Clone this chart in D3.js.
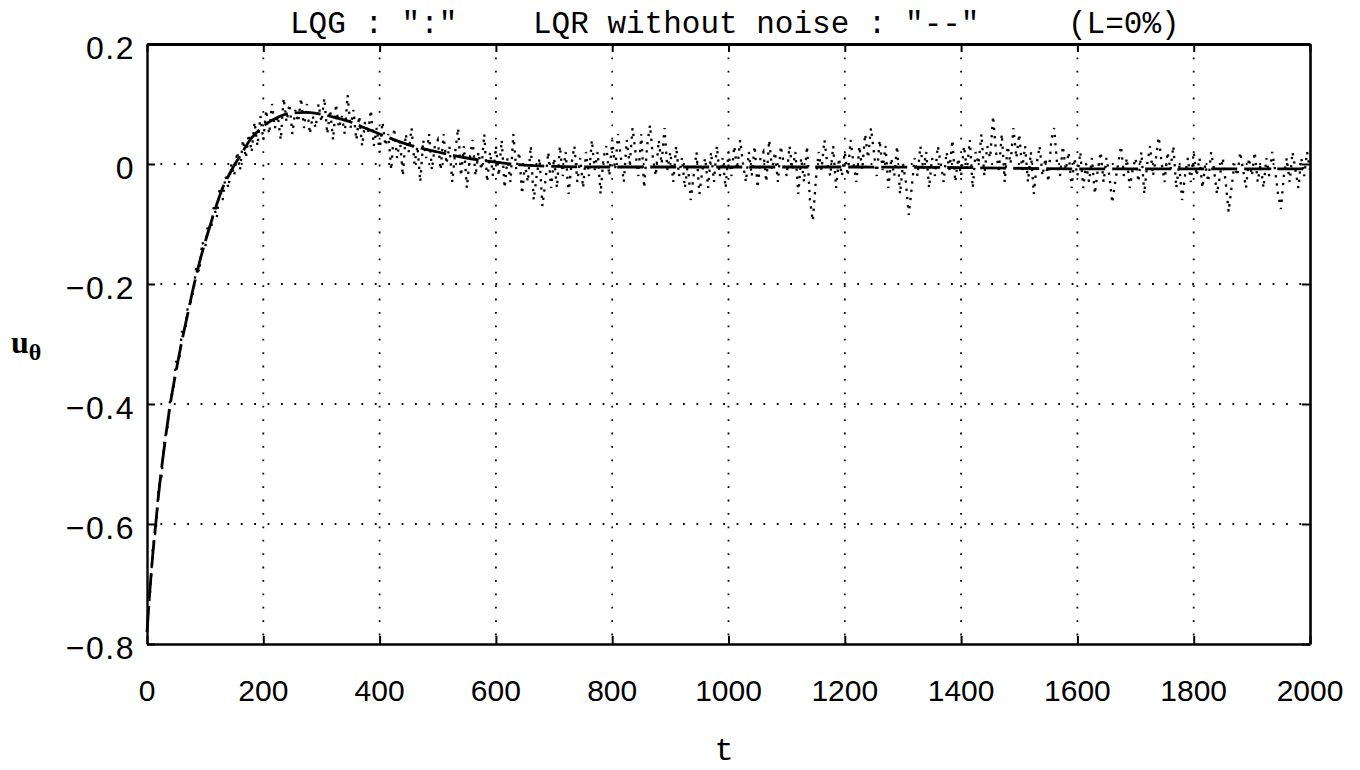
<!DOCTYPE html>
<html>
<head>
<meta charset="utf-8">
<script src="https://cdn.jsdelivr.net/npm/d3@7"></script>
<style>
  html, body { margin: 0; padding: 0; background: #fff; }
  svg { display: block; }
</style>
</head>
<body>
<svg id="chart" width="1360" height="770"></svg>
<script>
// Tick values shown on the axes
const xTicks = [0, 200, 400, 600, 800, 1000, 1200, 1400, 1600, 1800, 2000];
const yTicks = [0.2, 0, -0.2, -0.4, -0.6, -0.8];

// LQR without noise (dashed reference response)
const lqrT = [0, 5, 10, 15, 20, 30, 40, 50, 60, 70, 80, 90, 100, 110, 120, 130, 140, 150, 160, 175,
  200, 225, 250, 275, 300, 325, 350, 375, 400, 450, 500, 550, 600, 650, 700, 800, 900, 1000,
  1200, 1400, 1600, 1800, 2000];
const lqrU = [-0.78, -0.71, -0.65, -0.60, -0.55, -0.47, -0.40, -0.345, -0.295, -0.25, -0.205, -0.165,
  -0.13, -0.098, -0.067, -0.04, -0.02, -0.002, 0.013, 0.037,
  0.063, 0.078, 0.085, 0.086, 0.083, 0.077, 0.07, 0.06, 0.05, 0.032, 0.02, 0.01, 0.003, -0.002,
  -0.004, -0.005, -0.005, -0.005, -0.005, -0.006, -0.008, -0.008, -0.008];

// LQG response, sampled every 5 time units (dotted); one row per 100 time units
const lqgStep = 5;
const lqgU = [
  -0.77, -0.72, -0.64, -0.61, -0.54, -0.52, -0.46, -0.44, -0.39, -0.38, -0.33, -0.33, -0.28, -0.28, -0.24, -0.23, -0.21, -0.17, -0.18, -0.13,
  -0.14, -0.10, -0.11, -0.07, -0.09, -0.04, -0.06, -0.02, -0.04, 0.00, -0.02, 0.02, -0.01, 0.04, 0.01, 0.05, 0.02, 0.07, 0.03, 0.08,
  0.04, 0.09, 0.05, 0.10, 0.06, 0.08, 0.04, 0.11, 0.07, 0.10, 0.05, 0.09, 0.07, 0.11, 0.06, 0.10, 0.05, 0.08, 0.06, 0.10,
  0.07, 0.11, 0.05, 0.09, 0.04, 0.10, 0.06, 0.08, 0.05, 0.115, 0.06, 0.09, 0.04, 0.08, 0.03, 0.07, 0.05, 0.09, 0.03, 0.06,
  0.02, 0.07, 0.03, 0.05, -0.01, 0.06, 0.01, 0.04, -0.02, 0.05, 0.02, 0.06, 0.00, 0.03, -0.03, 0.04, 0.01, 0.05, -0.01, 0.03,
  0.04, -0.01, 0.05, 0.00, 0.03, -0.03, 0.02, 0.06, -0.02, 0.03, -0.04, 0.01, 0.04, -0.02, 0.02, -0.01, 0.05, -0.03, 0.02, -0.02,
  0.03, -0.02, 0.04, -0.04, 0.01, -0.03, 0.05, -0.01, 0.02, -0.05, 0.00, -0.03, 0.03, -0.06, -0.02, 0.01, -0.07, -0.03, 0.02, -0.04,
  0.01, -0.04, 0.03, -0.02, 0.02, -0.05, 0.00, 0.03, -0.03, 0.01, -0.04, 0.02, -0.02, 0.04, -0.01, 0.02, -0.05, 0.01, 0.03, -0.02,
  0.04, -0.01, 0.05, 0.01, -0.03, 0.04, 0.00, 0.06, 0.02, -0.02, 0.05, -0.04, 0.03, 0.065, 0.01, -0.02, 0.04, 0.00, 0.06, -0.01,
  0.02, -0.03, 0.03, -0.02, 0.01, -0.04, 0.00, -0.06, -0.02, 0.02, -0.05, -0.01, 0.01, -0.04, 0.02, -0.03, 0.03, -0.02, 0.01, -0.04,
  0.02, -0.02, 0.03, -0.01, 0.04, 0.00, -0.03, 0.02, -0.02, 0.03, -0.04, 0.01, 0.02, -0.03, 0.04, -0.01, 0.02, -0.03, 0.03, 0.00,
  -0.02, 0.03, -0.01, 0.02, -0.05, 0.01, -0.03, 0.03, -0.06, -0.095, -0.03, 0.02, -0.01, 0.04, 0.00, -0.02, 0.03, -0.04, 0.01, -0.02,
  0.02, -0.02, 0.04, 0.00, -0.03, 0.03, -0.01, 0.05, 0.01, 0.06, 0.02, -0.02, 0.04, -0.01, 0.03, -0.04, 0.01, -0.02, 0.03, -0.05,
  0.00, -0.03, -0.085, -0.04, 0.01, -0.02, 0.03, -0.01, 0.02, -0.04, 0.01, -0.02, 0.03, 0.00, -0.03, 0.02, -0.01, 0.04, -0.03, 0.01,
  -0.02, 0.03, -0.01, 0.04, -0.04, 0.02, 0.00, 0.05, -0.02, 0.03, 0.01, 0.08, 0.02, -0.01, 0.05, -0.03, 0.03, 0.00, 0.06, 0.01,
  0.05, -0.01, 0.03, -0.03, 0.02, -0.05, 0.00, 0.03, -0.02, 0.01, -0.03, 0.04, 0.06, 0.00, -0.02, 0.03, -0.01, 0.02, -0.04, 0.01,
  -0.02, 0.02, -0.04, 0.00, -0.03, 0.01, -0.05, -0.01, 0.02, -0.03, 0.01, -0.02, -0.065, -0.03, 0.00, 0.03, -0.02, 0.01, -0.04, -0.01,
  0.01, -0.03, 0.02, -0.05, 0.00, 0.03, -0.02, 0.01, 0.045, 0.00, -0.03, 0.02, -0.01, 0.03, -0.04, 0.00, -0.06, -0.02, 0.01, -0.03,
  0.02, -0.02, 0.01, -0.04, 0.00, -0.03, 0.02, -0.01, -0.05, -0.02, 0.01, -0.03, -0.08, -0.04, 0.00, -0.02, 0.02, -0.01, -0.04, 0.01,
  -0.02, 0.02, -0.03, 0.00, -0.04, 0.01, -0.02, 0.02, -0.01, -0.05, -0.075, -0.02, 0.01, -0.03, 0.02, -0.01, -0.04, 0.01, -0.02, 0.02,
  -0.01
];

const svg = d3.select("#chart");
const plotLeft = 147, plotRight = 1310, plotTop = 44, plotBottom = 644;

const x = d3.scaleLinear().domain([0, 2000]).range([plotLeft, plotRight]);
const y = d3.scaleLinear().domain([-0.8, 0.2]).range([plotBottom, plotTop]);

const tickFont = "'Liberation Sans', Arial, sans-serif";
const monoFont = "'Liberation Mono', 'Courier New', monospace";

// dotted grid
const grid = svg.append("g");
grid.selectAll("line.gx")
  .data(xTicks.slice(1, -1))
  .join("line")
  .attr("class", "gx")
  .attr("x1", d => x(d)).attr("x2", d => x(d))
  .attr("y1", plotTop).attr("y2", plotBottom)
  .attr("stroke", "#000").attr("stroke-width", 1.8)
  .attr("stroke-dasharray", "1.8,11.6");
grid.selectAll("line.gy")
  .data(yTicks.slice(1, -1))
  .join("line")
  .attr("class", "gy")
  .attr("x1", plotLeft).attr("x2", plotRight)
  .attr("y1", d => y(d)).attr("y2", d => y(d))
  .attr("stroke", "#000").attr("stroke-width", 1.8)
  .attr("stroke-dasharray", "1.8,11.6");

// axes with inward ticks on all four sides
const axisBottom = d3.axisBottom(x).tickValues(xTicks).tickSizeInner(-8).tickSizeOuter(0).tickFormat("");
const axisTop = d3.axisTop(x).tickValues(xTicks).tickSizeInner(-8).tickSizeOuter(0).tickFormat("");
const axisLeft = d3.axisLeft(y).tickValues(yTicks).tickSizeInner(-8).tickSizeOuter(0).tickFormat("");
const axisRight = d3.axisRight(y).tickValues(yTicks).tickSizeInner(-8).tickSizeOuter(0).tickFormat("");

function styleAxis(g, w) {
  g.selectAll("path.domain").attr("stroke", "#000").attr("stroke-width", w);
  g.selectAll(".tick line").attr("stroke", "#000").attr("stroke-width", 2);
}
svg.append("g").attr("transform", `translate(0,${plotBottom})`).call(axisBottom).call(styleAxis, 2.4);
svg.append("g").attr("transform", `translate(0,${plotTop})`).call(axisTop).call(styleAxis, 3);
svg.append("g").attr("transform", `translate(${plotLeft},0)`).call(axisLeft).call(styleAxis, 2.4);
svg.append("g").attr("transform", `translate(${plotRight},0)`).call(axisRight).call(styleAxis, 2.6);

// tick labels
const fmt = v => (v < 0 ? "\u2212" : "") + (v === 0 ? "0" : String(Math.abs(v)));
svg.append("g").selectAll("text")
  .data(xTicks).join("text")
  .attr("x", d => x(d)).attr("y", 701)
  .attr("text-anchor", "middle")
  .attr("font-family", tickFont).attr("font-size", 30)
  .text(d => d);
svg.append("g").selectAll("text")
  .data(yTicks).join("text")
  .attr("x", 135).attr("y", d => y(d) + 15)
  .attr("text-anchor", "end")
  .attr("font-family", tickFont).attr("font-size", 32)
  .attr("letter-spacing", 1.5)
  .text(fmt);

// LQR without noise: dashed
const lqrLine = d3.line().x(d => x(d[0])).y(d => y(d[1])).curve(d3.curveMonotoneX);
svg.append("path")
  .datum(lqrT.map((t, i) => [t, lqrU[i]]))
  .attr("d", lqrLine)
  .attr("fill", "none").attr("stroke", "#000").attr("stroke-width", 2.8)
  .attr("stroke-dasharray", "26,7");

// LQG: dotted
const lqgLine = d3.line().x(d => x(d[0])).y(d => y(d[1]));
svg.append("path")
  .datum(lqgU.map((u, i) => [i * lqgStep, u]))
  .attr("d", lqgLine)
  .attr("fill", "none").attr("stroke", "#000").attr("stroke-width", 2.3)
  .attr("stroke-dasharray", "2.3,6");

// title
const title = svg.append("g").attr("font-family", monoFont).attr("font-size", 31).attr("fill", "#000");
title.append("text").attr("x", 290).attr("y", 33).text('LQG : ":"');
title.append("text").attr("x", 533).attr("y", 33).text('LQR without noise : "--"');
title.append("text").attr("x", 1068).attr("y", 33).text("(L=0%)");

// axis names
svg.append("text")
  .attr("x", 724).attr("y", 760)
  .attr("text-anchor", "middle")
  .attr("font-family", monoFont).attr("font-size", 32)
  .text("t");

const yl = svg.append("text")
  .attr("x", 11).attr("y", 353)
  .attr("font-family", "'Liberation Serif', 'Times New Roman', serif")
  .attr("font-weight", "bold").attr("font-size", 32);
yl.append("tspan").text("u");
yl.append("tspan").attr("dy", 7).attr("font-size", 24).text("\u03b8");
</script>
</body>
</html>
